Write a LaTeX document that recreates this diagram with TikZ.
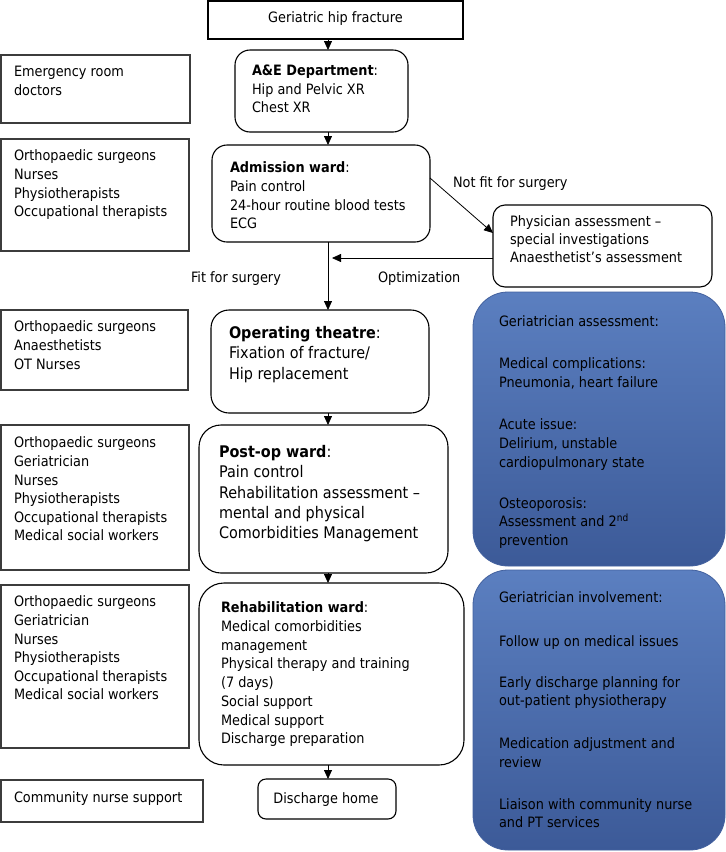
\documentclass[tikz,border=0pt]{standalone}
\usepackage{fontspec}
\setmainfont{DejaVu Sans}[FakeStretch=0.9]
\usetikzlibrary{arrows.meta}
\definecolor{bluetop}{RGB}{91,127,192}
\definecolor{bluebot}{RGB}{60,90,152}
\definecolor{blueedge}{RGB}{66,96,158}
\definecolor{lgray}{RGB}{60,60,60}
\newcommand{\fn}{\fontsize{14.3}{18.6}\selectfont}
\newcommand{\fb}{\fontsize{16}{20.4}\selectfont}
\tikzset{
  lbox/.style={draw=lgray, line width=1.3pt, anchor=north west, inner sep=0pt, outer sep=0pt},
  rbox/.style={draw=black, line width=1.1pt, anchor=north west, inner sep=0pt, outer sep=0pt, rounded corners=#1},
  bbox/.style={draw=blueedge, line width=0.8pt, anchor=north west, inner sep=0pt, outer sep=0pt, rounded corners=35pt, top color=bluetop, bottom color=bluebot},
  txt/.style={inner sep=0pt, outer sep=0pt, align=left, anchor=north west, font=\fn},
  ltxt/.style={inner sep=0pt, outer sep=0pt, anchor=base west, font=\fn},
  btxt/.style={inner sep=0pt, outer sep=0pt, align=left, anchor=north west, font=\fb},
  arr/.style={-{Triangle[length=9pt,width=8pt]}, line width=0.8pt},
}
\begin{document}
\begin{tikzpicture}[x=1pt,y=-1pt]
\useasboundingbox (0,0) rectangle (726,852);
\coordinate (col) at (328,0);
% centre column
\node[lbox, draw=black, line width=1.1pt, minimum width=255pt, minimum height=38pt] (top) at (208,1) {};
\node[ltxt, anchor=base] (topt) at (335.5,22) {Geriatric hip fracture};
\node[rbox=15pt, minimum width=173pt, minimum height=82pt] (ae) at (235,50) {};
\node[txt] (aet) at (252,65) {\textbf{A\&E Department}:\\Hip and Pelvic XR\\Chest XR};
\node[rbox=15pt, minimum width=218pt, minimum height=97pt] (adm) at (212,145) {};
\node[txt] (admt) at (230,162) {\textbf{Admission ward}:\\Pain control\\24-hour routine blood tests\\ECG};
\node[rbox=12pt, minimum width=219pt, minimum height=82pt] (phys) at (493,205) {};
\node[txt, font=\fontsize{14.3}{18}\selectfont] (physt) at (510,216) {Physician assessment –\\special investigations\\Anaesthetist’s assessment};
\node[rbox=18pt, minimum width=218pt, minimum height=103pt] (op) at (211,310) {};
\node[btxt] (opt) at (229,326.3) {\textbf{Operating theatre}:\\Fixation of fracture/\\Hip replacement};
\node[rbox=22pt, minimum width=249pt, minimum height=148pt] (post) at (199,425) {};
\node[btxt, font=\fontsize{16}{20.3}\selectfont] (postt) at (219,445.3) {\textbf{Post-op ward}:\\Pain control\\Rehabilitation assessment –\\mental and physical\\Comorbidities Management};
\node[rbox=25pt, minimum width=265pt, minimum height=182pt] (rehab) at (199,583) {};
\node[txt, font=\fontsize{14.3}{18.7}\selectfont] (rehabt) at (221,602) {\textbf{Rehabilitation ward}:\\Medical comorbidities\\management\\Physical therapy and training\\(7 days)\\Social support\\Medical support\\Discharge preparation};
\node[rbox=8pt, minimum width=138pt, minimum height=40pt] (dis) at (258,779) {};
\node[ltxt, anchor=base] (dist) at (326,803) {Discharge home};
% labels
\node[ltxt] (nf) at (453,187) {Not fit for surgery};
\node[ltxt] (fit) at (191,282) {Fit for surgery};
\node[ltxt] (optim) at (378,282) {Optimization};
% left column
\node[lbox, minimum width=189pt, minimum height=68pt] (l1) at (1,55) {};
\node[txt] (l1t) at (14,66) {Emergency room\\doctors};
\node[lbox, minimum width=188pt, minimum height=112pt] (l2) at (1,139) {};
\node[txt] (l2t) at (14,150) {Orthopaedic surgeons\\Nurses\\Physiotherapists\\Occupational therapists};
\node[lbox, minimum width=187pt, minimum height=80pt] (l3) at (1,310) {};
\node[txt] (l3t) at (14,321) {Orthopaedic surgeons\\Anaesthetists\\OT Nurses};
\node[lbox, minimum width=188pt, minimum height=145pt] (l4) at (1,425) {};
\node[txt] (l4t) at (14,437) {Orthopaedic surgeons\\Geriatrician\\Nurses\\Physiotherapists\\Occupational therapists\\Medical social workers};
\node[lbox, minimum width=188pt, minimum height=163pt] (l5) at (1,585) {};
\node[txt] (l5t) at (14,596) {Orthopaedic surgeons\\Geriatrician\\Nurses\\Physiotherapists\\Occupational therapists\\Medical social workers};
\node[lbox, minimum width=202pt, minimum height=42pt] (l6) at (1,780) {};
\node[ltxt] (l6t) at (14,802) {Community nurse support};
% blue boxes
\node[bbox, minimum width=252pt, minimum height=274pt] (g1) at (473,292) {};
\node[txt, font=\fontsize{14.3}{18.7}\selectfont] (g1t) at (499,316) {Geriatrician assessment:\\[23pt]Medical complications:\\Pneumonia, heart failure\\[24pt]Acute issue:\\Delirium, unstable\\cardiopulmonary state\\[22pt]Osteoporosis:\\Assessment and 2\textsuperscript{nd}\\prevention};
\node[bbox, minimum width=252pt, minimum height=280pt] (g2) at (473,570) {};
\node[txt, font=\fontsize{14.3}{18.7}\selectfont] (g2t) at (499,592) {Geriatrician involvement:\\[25pt]Follow up on medical issues\\[22pt]Early discharge planning for\\out-patient physiotherapy\\[24pt]Medication adjustment and\\review\\[23pt]Liaison with community nurse\\and PT services};
% connectors
\coordinate (dA) at (430,178);
\coordinate (dB) at (493,233);
\coordinate (oy) at (0,258);
\draw[arr] (top.south -| col) -- (ae.north -| col);
\draw[arr] (ae.south -| col) -- (adm.north -| col);
\draw[arr] (dA) -- (dB);
\draw[arr] (phys.west |- oy) -- ([xshift=4pt]col |- oy);
\draw[arr] (adm.south -| col) -- (op.north -| col);
\draw[arr] (op.south -| col) -- (post.north -| col);
\draw[arr] (post.south -| col) -- (rehab.north -| col);
\draw[arr] (rehab.south -| col) -- (dis.north -| col);
\end{tikzpicture}
\end{document}
